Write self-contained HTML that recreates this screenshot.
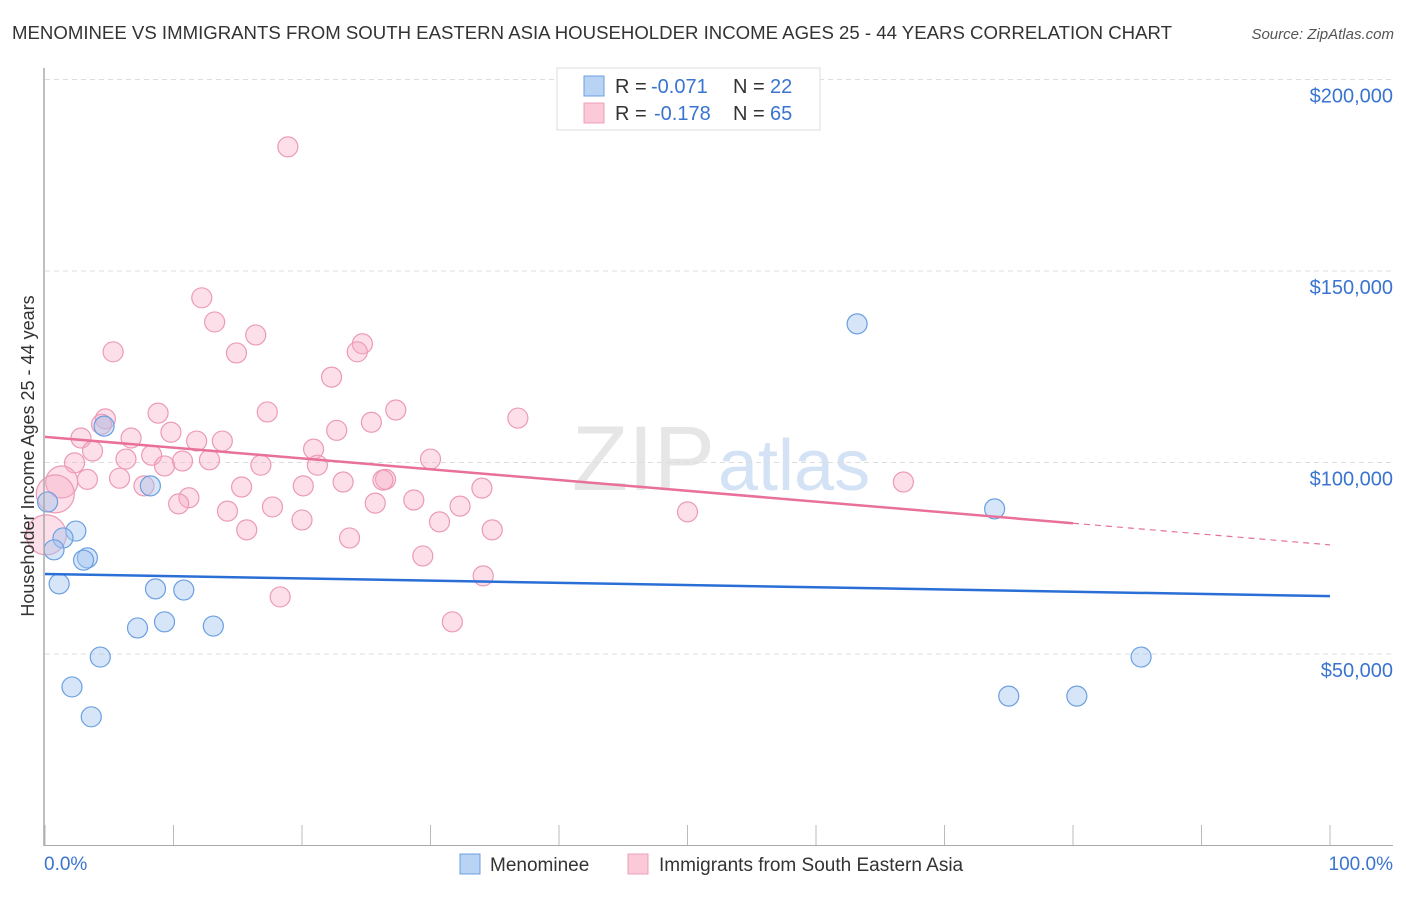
<!DOCTYPE html>
<html><head><meta charset="utf-8"><style>
body{margin:0;background:#fff;font-family:"Liberation Sans",sans-serif;}
svg text{font-family:"Liberation Sans",sans-serif;}
</style></head><body>
<svg id="chart" width="1406" height="892" xmlns="http://www.w3.org/2000/svg">
<text x="12" y="39" font-size="18" fill="#333" textLength="1160" lengthAdjust="spacingAndGlyphs">MENOMINEE VS IMMIGRANTS FROM SOUTH EASTERN ASIA HOUSEHOLDER INCOME AGES 25 - 44 YEARS CORRELATION CHART</text>
<text x="1394" y="39" font-size="15" fill="#555" text-anchor="end" font-style="italic">Source: ZipAtlas.com</text>
<text x="715" y="490" font-size="92" fill="#e6e6e6" text-anchor="end" font-family="Liberation Serif">ZIP</text>
<text x="718" y="490" font-size="72" fill="#d3e2f5">atlas</text>
<g id="grid"></g><g id="pts"></g><g id="lines"></g>
<line x1="44" y1="68" x2="44" y2="846" stroke="#aaa" stroke-width="1.5"/>
<line x1="44" y1="845.5" x2="1393" y2="845.5" stroke="#aaa" stroke-width="1"/>
<text transform="translate(34,456) rotate(-90)" font-size="18" fill="#333" text-anchor="middle">Householder Income Ages 25 - 44 years</text>
<text x="44" y="870" font-size="19" fill="#3a74d0">0.0%</text>
<text x="1393" y="870" font-size="19" fill="#3a74d0" text-anchor="end">100.0%</text>
<g>
<rect x="557" y="68" width="263" height="62" fill="#fff" stroke="#ddd"/>
<rect x="584" y="76" width="20" height="20" fill="#b9d3f5" stroke="#6a9fe0"/>
<rect x="584" y="103" width="20" height="20" fill="#fbc9d8" stroke="#eea0b8"/>
<text x="615" y="93" font-size="20" fill="#333">R =</text>
<text x="651" y="93" font-size="20" fill="#3a74d0">-0.071</text>
<text x="733" y="93" font-size="20" fill="#333">N =</text>
<text x="770" y="93" font-size="20" fill="#3a74d0">22</text>
<text x="615" y="120" font-size="20" fill="#333">R =</text>
<text x="654" y="120" font-size="20" fill="#3a74d0">-0.178</text>
<text x="733" y="120" font-size="20" fill="#333">N =</text>
<text x="770" y="120" font-size="20" fill="#3a74d0">65</text>
</g>
<g>
<rect x="460" y="854" width="20" height="20" fill="#b9d3f5" stroke="#6a9fe0"/>
<text x="490" y="871" font-size="19" fill="#333">Menominee</text>
<rect x="628" y="854" width="20" height="20" fill="#fbc9d8" stroke="#eea0b8"/>
<text x="659" y="871" font-size="19" fill="#333">Immigrants from South Eastern Asia</text>
</g>
</svg>
<script>
const yTicks=[50000,100000,150000,200000];
const yTickLabels=["$50,000","$100,000","$150,000","$200,000"];
const xTicks=[0,10,20,30,40,50,60,70,80,90,100];
const blueX=[0.2,4.6,8.2,2.4,1.4,0.7,3.3,3.0,1.1,8.6,10.8,9.3,7.2,13.1,4.3,2.1,3.6,63.2,73.9,85.3,75.0,80.3];
const blueY=[89700,109500,93900,82100,80300,77200,75100,74500,68300,67000,66700,58400,56800,57300,49200,41400,33600,136200,87900,49200,39000,39000];
const pinkX=[18.9,12.2,13.2,5.3,14.9,16.4,24.7,24.3,22.3,27.3,17.3,8.8,4.7,4.4,36.8,25.4,22.7,9.8,2.8,6.7,11.8,13.8,20.9,3.7,8.3,6.3,10.7,12.8,30.0,2.3,9.3,16.8,21.2,3.3,5.8,26.5,26.3,23.2,66.8,1.3,7.7,15.3,20.1,34.0,0.8,11.2,28.7,10.4,25.7,32.3,14.2,17.7,50.0,20.0,30.7,15.7,34.8,0.1,23.7,29.4,34.1,18.3,31.7];
const pinkY=[182400,143000,136700,128900,128600,133300,131000,128900,122300,113700,113200,112900,111400,110000,111600,110500,108400,107900,106400,106400,105600,105600,103500,103000,101900,100900,100400,100700,100900,99900,99100,99300,99300,95600,95900,95600,95400,94900,94900,94900,93900,93600,93900,93300,91800,90800,90200,89200,89400,88600,87300,88400,87100,85000,84500,82400,82400,81100,80300,75600,70400,64900,58400];
const pinkR=[10,10,10,10,10,10,10,10,10,10,10,10,10,10,10,10,10,10,10,10,10,10,10,10,10,10,10,10,10,10,10,10,10,10,10,10,10,10,10,16,10,10,10,10,19,10,10,10,10,10,10,10,10,10,10,10,10,20,10,10,10,10,10];
const blueTrend=[70900,65100];
const pinkTrend=[106700,78500];
const pinkSolidEnd=80;
const X=p=>45+p*12.85, Y=v=>845.5-v*0.00383;
const NS="http://www.w3.org/2000/svg";
function mk(t,a,parent){const e=document.createElementNS(NS,t);for(const k in a)e.setAttribute(k,a[k]);document.getElementById(parent).appendChild(e);return e;}
yTicks.forEach((v,i)=>{
 const g=mk('line',{x1:45,x2:1393,y1:Y(v),y2:Y(v),stroke:'#ddd','stroke-dasharray':'5,4'},'grid');
 
 
 const t=mk('text',{x:1393,y:Y(v)+23,'font-size':20,fill:'#3a74d0','text-anchor':'end'},'grid');
 t.textContent=yTickLabels[i];
 
 
});
xTicks.forEach(p=>{
 const l=mk('line',{x1:X(p),x2:X(p),y1:825,y2:845,stroke:'#bbb'},'grid');
 
 
});
pinkX.forEach((p,i)=>{
 const c=mk('circle',{cx:X(p),cy:Y(pinkY[i]),r:pinkR[i],fill:'rgba(246,172,198,0.38)',stroke:'#ec9ab6','stroke-width':1.2},'pts');
 
 
});
blueX.forEach((p,i)=>{
 const c=mk('circle',{cx:X(p),cy:Y(blueY[i]),r:10,fill:'rgba(165,198,240,0.45)',stroke:'#6a9fe0','stroke-width':1.2},'pts');
 
 
});
const bl=mk('line',{x1:X(0),y1:Y(blueTrend[0]),x2:X(100),y2:Y(blueTrend[1]),stroke:'#2a6fd6','stroke-width':2.5},'lines');


const pv=p=>pinkTrend[0]+(pinkTrend[1]-pinkTrend[0])*p/100;
const pl=mk('line',{x1:X(0),y1:Y(pv(0)),x2:X(pinkSolidEnd),y2:Y(pv(pinkSolidEnd)),stroke:'#e8709a','stroke-width':2.5},'lines');


const pd=mk('line',{x1:X(pinkSolidEnd),y1:Y(pv(pinkSolidEnd)),x2:X(100),y2:Y(pv(100)),stroke:'#e8709a','stroke-width':1.2,'stroke-dasharray':'6,5'},'lines');


</script>
</body></html>
